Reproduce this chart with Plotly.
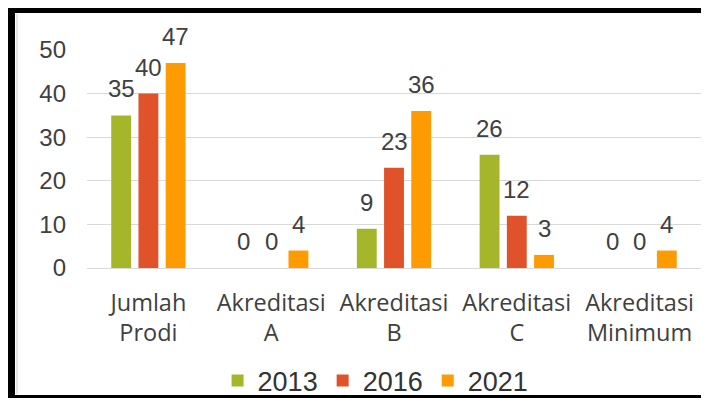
import plotly.graph_objects as go

categories = ["Jumlah<br>Prodi", "Akreditasi<br>A", "Akreditasi<br>B", "Akreditasi<br>C", "Akreditasi<br>Minimum"]
years = ["2013", "2016", "2021"]
v2013 = [35, 0, 9, 26, 0]
v2016 = [40, 0, 23, 12, 0]
v2021 = [47, 4, 36, 3, 4]
colors = ["#A5B62B", "#E0532A", "#FE9B00"]

series = [v2013, v2016, v2021]
offsets = [-27.3, 0, 27.3]

fig = go.Figure()
for name, vals, col in zip(years, series, colors):
    fig.add_trace(go.Bar(x=categories, y=vals, name=name, marker_color=col,
                         marker_line_width=0))

# data labels sit well above the bars, like the original
for vals, dx in zip(series, offsets):
    for c, v in zip(categories, vals):
        fig.add_annotation(x=c, y=v, text=str(v), showarrow=False, yanchor="bottom",
                           xshift=dx, yshift=11,
                           font=dict(family="Liberation Sans", size=24, color="#404040"))

# the page body keeps its 8px margin, so the figure sits 8px in from the window
FW, FH = 693, 390
L, T, W, H = 79, 42, 614, 218
px = lambda x: (x - L) / W
py = lambda y: (T + H - y) / H
frame = [(0, 0, 7, FH), (0, 0, FW, 5), (0, 387, FW, FH)]
for x0, y0, x1, y1 in frame:
    fig.add_shape(type="rect", xref="paper", yref="paper", x0=px(x0), x1=px(x1),
                  y0=py(y1), y1=py(y0), fillcolor="black", line_width=0, layer="above")
fig.add_shape(type="line", xref="paper", yref="paper", x0=px(9), x1=px(9),
              y0=py(386), y1=py(6), line=dict(color="#D0D0D0", width=1))

fig.update_layout(
    width=FW, height=FH,
    margin=dict(l=L, r=FW - L - W, t=T, b=FH - T - H, autoexpand=False),
    paper_bgcolor="white", plot_bgcolor="white",
    barmode="group", bargap=0.335, bargroupgap=0.27,
    showlegend=True,
    legend=dict(orientation="h", x=0.47, xanchor="center", y=py(373), yanchor="middle",
                bgcolor="rgba(0,0,0,0)",
                font=dict(family="Liberation Sans", size=27, color="#333333"),
                itemclick=False),
    xaxis=dict(showgrid=False, showline=False, ticks="",
               tickfont=dict(family="Open Sans", size=23.5, color="#404040"),
               ticklabelstandoff=18),
    yaxis=dict(range=[0, 50], dtick=10, showgrid=True, gridcolor="#D9D9D9", gridwidth=1,
               zeroline=True, zerolinecolor="#D9D9D9", zerolinewidth=1,
               showline=False, ticks="", ticklabelstandoff=20,
               tickfont=dict(family="Liberation Sans", size=24, color="#404040")),
)

fig.write_html("out.html", config={"displayModeBar": False})
